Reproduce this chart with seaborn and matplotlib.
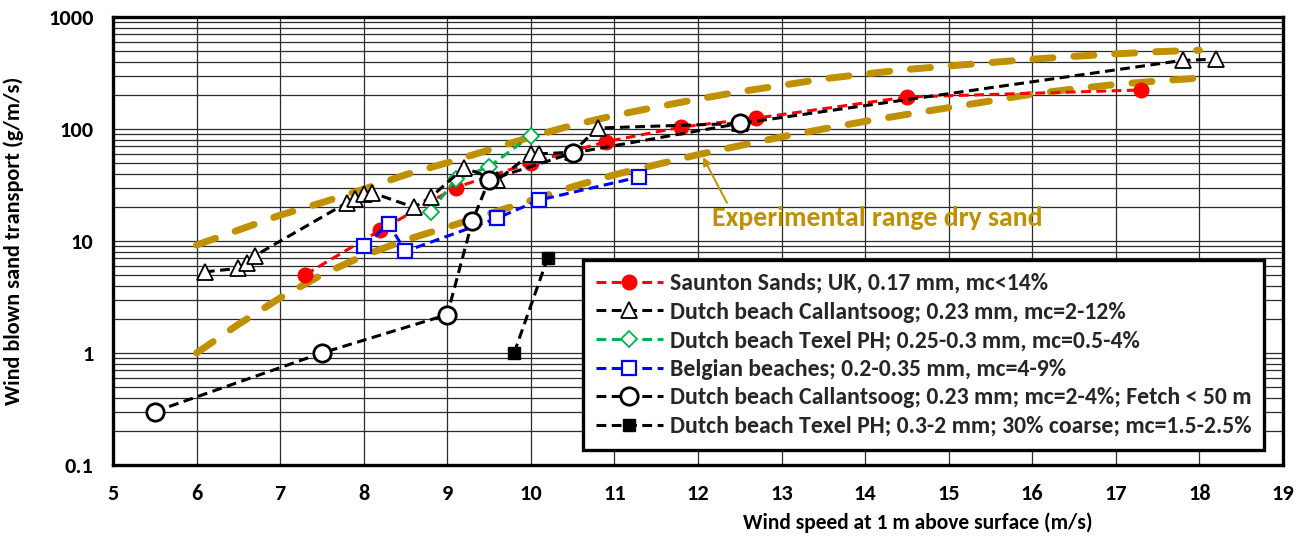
import matplotlib
matplotlib.use("Agg")
import matplotlib.pyplot as plt
from matplotlib.ticker import FixedLocator, FixedFormatter, LogLocator, NullFormatter
import seaborn as sns

# ---- data -------------------------------------------------------------
saunton_x = [7.3, 8.2, 9.1, 10.0, 10.9, 11.8, 12.7, 14.5, 17.3]
saunton_y = [5.0, 12.5, 30, 50, 77, 104, 125, 193, 223]

callantsoog_x = [6.1, 6.5, 6.6, 6.7, 7.8, 7.9, 8.0, 8.1, 8.6, 8.8, 9.2, 9.6,
                 10.0, 10.1, 10.5, 10.8, 12.5, 17.8, 18.2]
callantsoog_y = [5.3, 5.7, 6.4, 7.4, 22, 23.5, 26.5, 27, 20, 24.5, 45, 35,
                 60, 60, 62, 102, 112, 410, 420]

texel_x = [8.8, 9.1, 9.5, 10.0]
texel_y = [18.3, 35.5, 46, 87]

belgian_x = [8.0, 8.3, 8.5, 9.6, 10.1, 11.3]
belgian_y = [9.0, 14.2, 8.1, 16, 23.2, 37.3]

fetch_x = [5.5, 7.5, 9.0, 9.3, 9.5, 10.5, 12.5]
fetch_y = [0.3, 1.0, 2.2, 15, 35, 61, 112]

coarse_x = [9.8, 10.2]
coarse_y = [1.0, 7.0]

# envelope of dry-sand experiments
range_x = [6.0, 6.5, 7.0, 7.5, 8.0, 8.5, 9.0, 9.5, 10.0, 10.5, 11.0, 11.5, 12.0,
           12.5, 13.0, 13.5, 14.0, 14.5, 15.0, 15.5, 16.0, 16.5, 17.0, 17.5, 18.0]
range_upper = [9.2, 12.5, 17, 22, 29, 39, 50, 65, 85, 108, 132, 157, 185,
               215, 245, 280, 310, 340, 365, 392, 420, 445, 468, 490, 505]
range_lower = [1.0, 1.8, 3.1, 5.0, 7.4, 10.2, 13.3, 17.5, 23, 30.5, 39, 48, 59,
               71, 85, 100, 117, 135, 155, 178, 205, 228, 250, 268, 285]

x_ticks = [5, 6, 7, 8, 9, 10, 11, 12, 13, 14, 15, 16, 17, 18, 19]
y_ticks = [0.1, 1, 10, 100, 1000]
y_tick_labels = ["0.1", "1", "10", "100", "1000"]

labels = [
    "Saunton Sands; UK, 0.17 mm, mc<14%",
    "Dutch beach Callantsoog; 0.23 mm, mc=2-12%",
    "Dutch beach Texel PH; 0.25-0.3 mm, mc=0.5-4%",
    "Belgian beaches; 0.2-0.35 mm, mc=4-9%",
    "Dutch beach Callantsoog; 0.23 mm; mc=2-4%; Fetch < 50 m",
    "Dutch beach Texel PH; 0.3-2 mm; 30% coarse; mc=1.5-2.5%",
]
range_label = "Experimental range dry sand"

# ---- style ------------------------------------------------------------
sns.set_theme(style="white")
plt.rcParams["font.family"] = ["Carlito", "DejaVu Sans"]
plt.rcParams["font.weight"] = "bold"

GOLD = "#BF9000"
RED = "#FF0000"
GREEN = "#00B050"
BLUE = "#0000FF"

fig = plt.figure(figsize=(13.09, 5.39), dpi=100)
ax = fig.add_axes([0.0863, 0.1373, 0.8938, 0.8312])
ax.set_yscale("log")


def draw(xs, ys, color, dash, lw, zorder, **mk):
    sns.lineplot(x=xs, y=ys, ax=ax, sort=False, estimator=None, color=color,
                 lw=lw, legend=False, zorder=zorder, **mk)
    line = ax.lines[-1]
    line.set_dashes(dash)
    return line


# dry-sand envelope
for ys in (range_upper, range_lower):
    ln = draw(range_x, ys, GOLD, (2.9, 3.0), 5.0, 2)
    ln.set_dash_capstyle("round")
    ln.set_solid_capstyle("round")

dash = (3.2, 1.8)
LW = 2.2
h_saunton = draw(saunton_x, saunton_y, RED, dash, LW, 4,
                 marker="o", markersize=10.5, markerfacecolor=RED,
                 markeredgecolor=RED, markeredgewidth=1)
h_call = draw(callantsoog_x, callantsoog_y, "black", dash, LW, 5,
              marker="^", markersize=11, markerfacecolor="white",
              markeredgecolor="black", markeredgewidth=1.3)
h_texel = draw(texel_x, texel_y, GREEN, dash, LW, 4,
               marker="D", markersize=8.5, markerfacecolor="white",
               markeredgecolor=GREEN, markeredgewidth=1.3)
h_belg = draw(belgian_x, belgian_y, BLUE, dash, LW, 4,
              marker="s", markersize=10.5, markerfacecolor="white",
              markeredgecolor=BLUE, markeredgewidth=1.6)
h_fetch = draw(fetch_x, fetch_y, "black", dash, LW, 6,
               marker="o", markersize=12.5, markerfacecolor="white",
               markeredgecolor="black", markeredgewidth=2.0)
h_coarse = draw(coarse_x, coarse_y, "black", dash, LW, 4,
                marker="s", markersize=9, markerfacecolor="black",
                markeredgecolor="black", markeredgewidth=1)

# ---- axes -------------------------------------------------------------
ax.set_xlim(5, 19)
ax.set_ylim(0.1, 1000)
ax.xaxis.set_major_locator(FixedLocator(x_ticks))
ax.yaxis.set_major_locator(FixedLocator(y_ticks))
ax.yaxis.set_major_formatter(FixedFormatter(y_tick_labels))
ax.yaxis.set_minor_locator(LogLocator(base=10, subs=range(2, 10)))
ax.yaxis.set_minor_formatter(NullFormatter())

ax.grid(True, which="major", axis="both", color="#2b2b2b", lw=0.9)
ax.grid(True, which="minor", axis="y", color="#2b2b2b", lw=0.9)
ax.set_axisbelow(True)
for s in ax.spines.values():
    s.set_color("black")
    s.set_linewidth(2.4)
    s.set_zorder(10)

ax.tick_params(axis="both", which="both", length=0, labelsize=16,
               labelcolor="black")
ax.tick_params(axis="x", pad=14)
ax.tick_params(axis="y", pad=14)

ax.set_xlabel("Wind speed at 1 m above surface (m/s)", fontsize=15.5,
              fontweight="bold", color="black")
ax.xaxis.set_label_coords(0.688, -0.106)
ax.set_ylabel("Wind blown sand transport (g/m/s)", fontsize=16,
              fontweight="bold", color="black")
ax.yaxis.set_label_coords(-0.076, 0.5)

ax.annotate(range_label, xy=(12.06, 56), xytext=(12.17, 16),
            ha="left", va="center", color=GOLD, fontsize=20, fontweight="bold",
            arrowprops=dict(arrowstyle="-|>", color=GOLD, lw=1.4,
                            mutation_scale=12, relpos=(0.05, 1.0),
                            shrinkA=0, shrinkB=0))

handles = [h_saunton, h_call, h_texel, h_belg, h_fetch, h_coarse]
leg = ax.legend(handles, labels, loc="upper left",
                bbox_to_anchor=(583 / 1309, 1 - 260 / 539),
                bbox_transform=fig.transFigure,
                prop={"weight": "bold", "size": 17.1}, frameon=True,
                fancybox=False, edgecolor="black", framealpha=1,
                borderpad=0.55, labelspacing=0.32, handlelength=2.8,
                handletextpad=0.3, borderaxespad=0, numpoints=1)
leg.get_frame().set_linewidth(2.4)
leg.set_zorder(20)

fig.savefig("out.png", dpi=100, facecolor="white")
